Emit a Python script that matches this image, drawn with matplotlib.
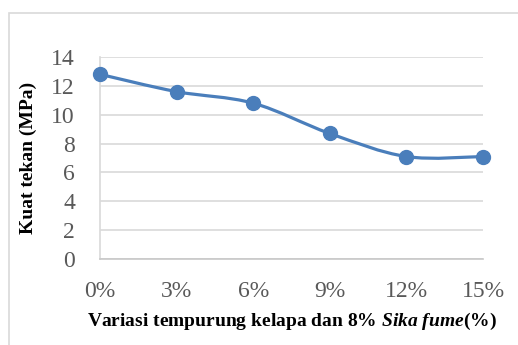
import matplotlib
matplotlib.use("Agg")
import matplotlib.pyplot as plt
from matplotlib.path import Path
from matplotlib.patches import PathPatch, Rectangle
import numpy as np

# data
kategori = ['0%', '3%', '6%', '9%', '12%', '15%']
kuat_tekan = [12.8, 11.6, 10.8, 8.7, 7.1, 7.1]
y_ticks = [0, 2, 4, 6, 8, 10, 12, 14]

blue = '#4a7ebb'
plt.rcParams['font.family'] = 'Liberation Serif'
plt.rcParams['mathtext.fontset'] = 'custom'
plt.rcParams['mathtext.it'] = 'Liberation Serif:italic:bold'
plt.rcParams['mathtext.rm'] = 'Liberation Serif:bold'

fig = plt.figure(figsize=(5.18, 3.45), dpi=100)
ax = fig.add_axes([100/518, 1-259/345, 383/518, 202/345])

# chart frame (cropped in the reference)
fig.patches.append(Rectangle((9/518, -0.05), 1.0, 1-13/345+0.05, transform=fig.transFigure,
                             fill=False, edgecolor='#d9d9d9', linewidth=1.2))

x = np.arange(len(kategori))
y = np.array(kuat_tekan, dtype=float)

# smooth line like excel (bezier through the points)
verts = [(x[0], y[0])]
codes = [Path.MOVETO]
n = len(x)
for i in range(n - 1):
    p0 = np.array([x[max(i-1, 0)], y[max(i-1, 0)]])
    p1 = np.array([x[i], y[i]])
    p2 = np.array([x[i+1], y[i+1]])
    p3 = np.array([x[min(i+2, n-1)], y[min(i+2, n-1)]])
    c1 = p1 + (p2 - p0) / 6
    c2 = p2 - (p3 - p1) / 6
    verts += [tuple(c1), tuple(c2), tuple(p2)]
    codes += [Path.CURVE4] * 3
ax.add_patch(PathPatch(Path(verts, codes), facecolor='none', edgecolor=blue,
                       linewidth=2.3, clip_on=False, zorder=3))
ax.plot(x, y, linestyle='none', marker='o', markersize=10, color=blue, clip_on=False, zorder=4)

ax.set_xlim(0, 5)
ax.set_ylim(0, 14)
ax.set_yticks(y_ticks)
ax.set_xticks(x)
ax.set_xticklabels(kategori)
ax.grid(axis='y', color='#d9d9d9', linewidth=1.2)
ax.set_axisbelow(True)
for s in ['top', 'right']:
    ax.spines[s].set_visible(False)
ax.spines['left'].set_color('#d9d9d9')
ax.spines['bottom'].set_color('#c8c8c8')
ax.spines['left'].set_linewidth(1.2)
ax.spines['bottom'].set_linewidth(1.2)
ax.tick_params(length=0, labelsize=17, colors='#595959')
ax.tick_params(axis='y', pad=18)
ax.tick_params(axis='x', pad=16)

ax.set_xlabel('Variasi tempurung kelapa dan 8% $\\mathit{Sika\\ fume}$(%)', fontsize=14,
              fontweight='bold', labelpad=6)
ax.set_ylabel('Kuat tekan (MPa)', fontsize=14, fontweight='bold', labelpad=10)

fig.savefig('out.png', dpi=100)
